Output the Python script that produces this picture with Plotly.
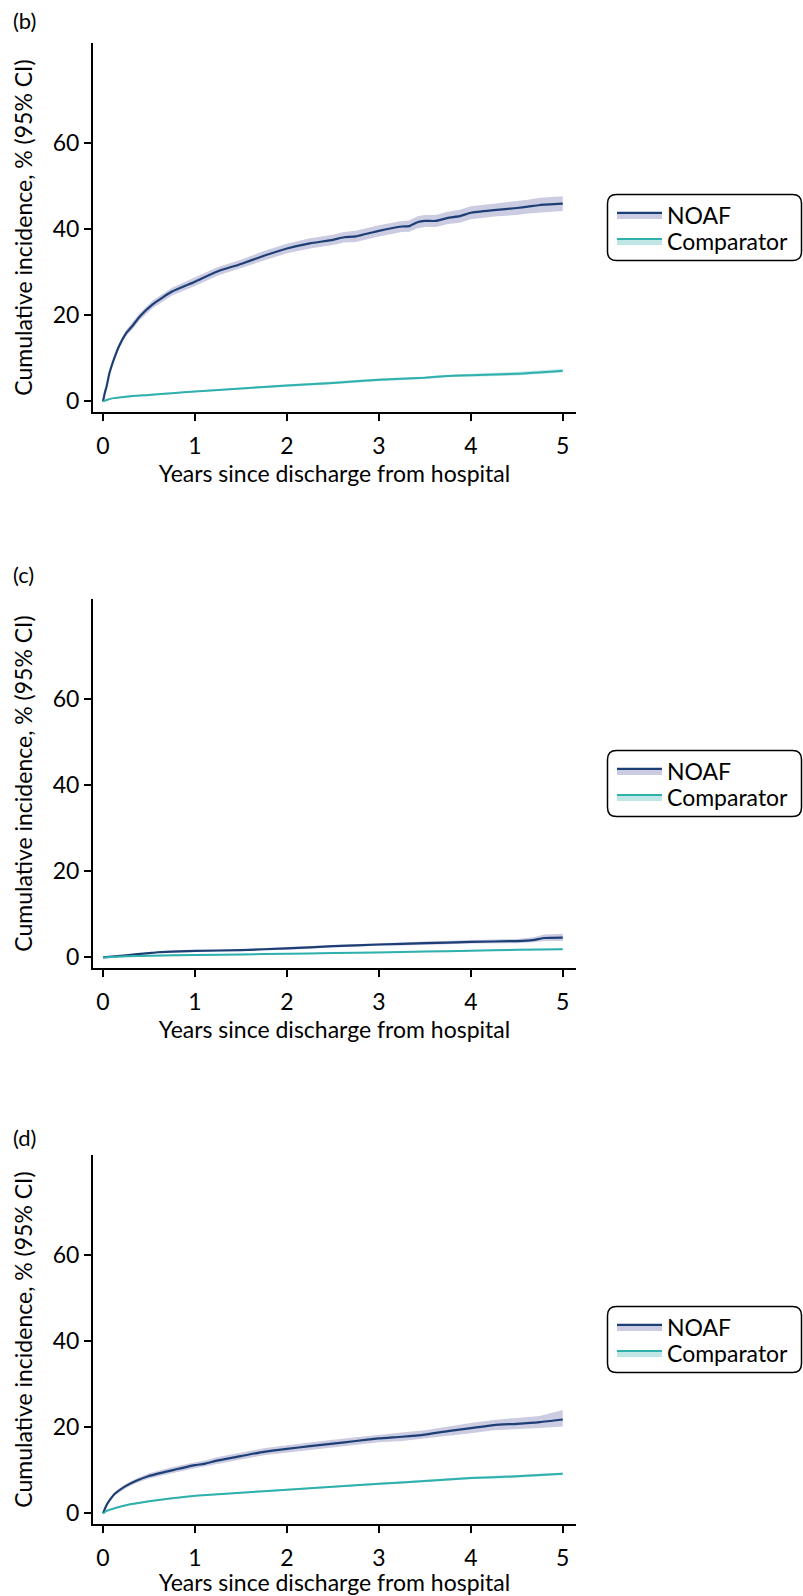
import plotly.graph_objects as go

# ---------------- data ----------------
x_ticks = [0, 1, 2, 3, 4, 5]
y_ticks = [0, 20, 40, 60]
series_names = ["NOAF", "Comparator"]
panel_labels = ["(b)", "(c)", "(d)"]

# Panel (b)
t_noaf_b = [0, 0.02, 0.04, 0.07, 0.11, 0.18, 0.25, 0.33, 0.40, 0.54, 0.75, 1.0, 1.25, 1.5, 1.75, 2.0, 2.25, 2.5, 2.62, 2.75,
            3.0, 3.25, 3.33, 3.42, 3.5, 3.62, 3.75, 3.88, 4.0, 4.25, 4.5, 4.62, 4.75, 5.0]
noaf_b = [0, 2.0, 3.6, 6.6, 9.3, 13.1, 15.8, 17.8, 19.7, 22.5, 25.5, 27.8, 30.2, 31.9, 33.8, 35.5, 36.7, 37.5, 38.1, 38.3,
          39.6, 40.6, 40.7, 41.6, 41.9, 41.9, 42.6, 43.0, 43.8, 44.4, 44.9, 45.2, 45.6, 45.9]
noaf_b_lo = [0, 1.8, 3.3, 6.2, 8.8, 12.5, 15.1, 17.0, 18.9, 21.6, 24.6, 26.8, 29.2, 30.9, 32.7, 34.4, 35.5, 36.3, 36.9, 37.0,
             38.3, 39.3, 39.4, 40.2, 40.5, 40.5, 41.2, 41.5, 42.3, 42.9, 43.3, 43.6, 43.9, 44.2]
noaf_b_hi = [0, 2.2, 3.9, 7.0, 9.8, 13.7, 16.5, 18.6, 20.5, 23.4, 26.4, 28.8, 31.2, 32.9, 34.9, 36.6, 37.9, 38.7, 39.3, 39.6,
             40.9, 41.9, 42.0, 43.0, 43.3, 43.3, 44.0, 44.5, 45.3, 45.9, 46.5, 46.8, 47.3, 47.6]
t_comp_b = [0, 0.05, 0.1, 0.25, 0.5, 0.75, 1.0, 1.5, 2.0, 2.5, 3.0, 3.5, 3.75, 4.0, 4.5, 5.0]
comp_b = [0, 0.4, 0.7, 1.1, 1.5, 1.9, 2.3, 3.0, 3.7, 4.3, 5.0, 5.5, 5.9, 6.1, 6.4, 7.1]
comp_b_lo = [0, 0.3, 0.6, 0.9, 1.3, 1.7, 2.1, 2.8, 3.4, 4.0, 4.7, 5.2, 5.6, 5.8, 6.0, 6.7]
comp_b_hi = [0, 0.5, 0.8, 1.3, 1.7, 2.1, 2.5, 3.2, 4.0, 4.6, 5.3, 5.8, 6.2, 6.4, 6.8, 7.5]

# Panel (c)
t_noaf_c = [0, 0.25, 0.5, 0.6, 0.83, 1.0, 1.5, 2.0, 2.5, 3.0, 3.5, 4.0, 4.5, 4.67, 4.8, 5.0]
noaf_c = [0, 0.5, 1.0, 1.2, 1.4, 1.5, 1.7, 2.1, 2.6, 3.0, 3.3, 3.6, 3.8, 4.0, 4.5, 4.6]
noaf_c_lo = [0, 0.4, 0.8, 1.0, 1.2, 1.3, 1.5, 1.8, 2.3, 2.7, 2.9, 3.2, 3.3, 3.5, 3.8, 3.8]
noaf_c_hi = [0, 0.6, 1.2, 1.4, 1.6, 1.7, 1.9, 2.4, 2.9, 3.3, 3.7, 4.0, 4.3, 4.6, 5.3, 5.5]
t_comp_c = [0, 0.25, 0.5, 1.0, 1.5, 2.0, 2.5, 3.0, 3.5, 4.0, 4.5, 5.0]
comp_c = [0, 0.25, 0.4, 0.55, 0.7, 0.85, 1.0, 1.15, 1.35, 1.55, 1.75, 1.9]
comp_c_lo = [0, 0.2, 0.3, 0.45, 0.6, 0.75, 0.9, 1.05, 1.2, 1.4, 1.6, 1.7]
comp_c_hi = [0, 0.3, 0.5, 0.65, 0.8, 0.95, 1.1, 1.25, 1.5, 1.7, 1.9, 2.1]

# Panel (d)
t_noaf_d = [0, 0.04, 0.08, 0.125, 0.25, 0.375, 0.5, 0.75, 1.0, 1.1, 1.25, 1.5, 1.75, 2.0, 2.25, 2.5, 2.75, 3.0, 3.25,
            3.5, 3.75, 4.0, 4.25, 4.5, 4.75, 5.0]
noaf_d = [0, 2.0, 3.3, 4.5, 6.4, 7.7, 8.7, 10.0, 11.2, 11.5, 12.3, 13.3, 14.3, 15.0, 15.6, 16.2, 16.8, 17.4, 17.8,
          18.3, 19.1, 19.8, 20.5, 20.8, 21.2, 21.8]
noaf_d_lo = [0, 1.8, 3.0, 4.1, 5.9, 7.2, 8.1, 9.3, 10.5, 10.8, 11.5, 12.5, 13.5, 14.2, 14.7, 15.3, 15.9, 16.5, 16.8,
             17.3, 18.0, 18.6, 19.3, 19.5, 19.8, 20.2]
noaf_d_hi = [0, 2.2, 3.6, 4.9, 6.9, 8.2, 9.3, 10.7, 11.9, 12.2, 13.1, 14.1, 15.1, 15.8, 16.5, 17.1, 17.7, 18.3, 18.8,
             19.3, 20.2, 21.0, 21.7, 22.1, 22.6, 24.0]
t_comp_d = [0, 0.04, 0.125, 0.25, 0.5, 0.75, 1.0, 1.5, 2.0, 2.5, 3.0, 3.5, 4.0, 4.5, 5.0]
comp_d = [0, 0.6, 1.2, 1.9, 2.8, 3.5, 4.1, 4.8, 5.5, 6.2, 6.9, 7.5, 8.2, 8.6, 9.2]
comp_d_lo = [0, 0.5, 1.1, 1.7, 2.6, 3.3, 3.9, 4.6, 5.3, 6.0, 6.6, 7.2, 7.9, 8.3, 8.9]
comp_d_hi = [0, 0.7, 1.3, 2.1, 3.0, 3.7, 4.3, 5.0, 5.7, 6.4, 7.2, 7.8, 8.5, 8.9, 9.5]

# ---------------- style ----------------
FONT = "Lato"
FS = 23
NAVY = "#1e3f75"
NAVY_BAND = "rgba(185,186,216,0.75)"
TEAL = "#2fb0ad"
TEAL_BAND = "rgba(150,215,213,0.6)"
X_RANGE = [-0.109, 5.144]
Y_RANGE = [-2.46, 83.2]

W, H = 803, 1596
L, R, T, B = 93, 227, 43, 72
PW, PH = W - L - R, H - T - B

def px_x(px):
    return (px - L) / PW

def px_y(py):
    return (H - B - py) / PH

panels = [
    dict(top=43, bottom=412, label_y=21,
         noaf=(t_noaf_b, noaf_b, noaf_b_lo, noaf_b_hi),
         comp=(t_comp_b, comp_b, comp_b_lo, comp_b_hi)),
    dict(top=599, bottom=968, label_y=574,
         noaf=(t_noaf_c, noaf_c, noaf_c_lo, noaf_c_hi),
         comp=(t_comp_c, comp_c, comp_c_lo, comp_c_hi)),
    dict(top=1155, bottom=1524, label_y=1137,
         noaf=(t_noaf_d, noaf_d, noaf_d_lo, noaf_d_hi),
         comp=(t_comp_d, comp_d, comp_d_lo, comp_d_hi)),
]

fig = go.Figure()
layout = dict(
    width=W, height=H,
    margin=dict(l=L, r=R, t=T, b=B, autoexpand=False),
    paper_bgcolor="white", plot_bgcolor="white",
    font=dict(family=FONT, size=FS, color="black"),
    showlegend=True,
    shapes=[], annotations=[],
)

series_style = [("NOAF", "noaf", NAVY, NAVY_BAND, 2.2, -12.5),
                ("Comparator", "comp", TEAL, TEAL_BAND, 2.0, 13.5)]

legend_count = 0
for i, p in enumerate(panels):
    k = "" if i == 0 else str(i + 1)
    xa, ya = "x" + k, "y" + k
    ctr = (p["top"] + p["bottom"]) / 2
    for name, key, col, band, lw, dy in series_style:
        t, v, lo, hi = p[key]
        fig.add_trace(go.Scatter(x=t + t[::-1], y=hi + lo[::-1], fill="toself", fillcolor=band,
                                 line=dict(width=0), mode="lines", hoverinfo="skip",
                                 showlegend=False, xaxis=xa, yaxis=ya))
    for name, key, col, band, lw, dy in series_style:
        t, v, lo, hi = p[key]
        fig.add_trace(go.Scatter(x=t, y=v, mode="lines",
                                 line=dict(color=col, width=lw, shape="spline", smoothing=0.5),
                                 showlegend=False, xaxis=xa, yaxis=ya, name=name))
        legend_count += 1
        lg = "legend" if legend_count == 1 else "legend" + str(legend_count)
        # legend entry (band + line)
        fig.add_trace(go.Scatter(x=[None], y=[None], mode="lines", fill="toself", fillcolor=band,
                                 line=dict(color=col, width=lw), name=name, legend=lg,
                                 xaxis=xa, yaxis=ya))
        layout[lg] = dict(
            x=px_x(612), xanchor="left", y=px_y(ctr + dy), yanchor="middle",
            bgcolor="rgba(0,0,0,0)", borderwidth=0, itemwidth=45,
            font=dict(family=FONT, size=FS, color="black"),
        )

    d0, d1 = px_y(p["bottom"]), px_y(p["top"])
    # primary x axis: line + ticks only
    layout["xaxis" + k] = dict(
        domain=[0, 1], anchor=ya, range=X_RANGE,
        tickvals=x_ticks, showticklabels=False,
        showline=True, linecolor="black", linewidth=2,
        ticks="outside", ticklen=7, tickwidth=2, tickcolor="black",
        showgrid=False, zeroline=False, automargin=False,
    )
    # overlay x axis: tick labels + title (labels pushed a little further from the line)
    ox = "xaxis" + str(i + 4)
    layout[ox] = dict(
        domain=[0, 1], anchor=ya, overlaying="x" + k, side="bottom", range=X_RANGE,
        tickvals=x_ticks, ticktext=[str(v) for v in x_ticks],
        showline=False, ticks="outside", ticklen=13, tickwidth=1, tickcolor="rgba(0,0,0,0)",
        showgrid=False, zeroline=False, automargin=False,
        tickfont=dict(family=FONT, size=FS, color="black"),
        title=dict(text="Years since discharge from hospital", standoff=6,
                   font=dict(family=FONT, size=FS, color="black")),
    )
    layout["yaxis" + k] = dict(
        domain=[d0, d1], anchor=xa, range=Y_RANGE,
        tickvals=y_ticks, ticktext=[str(v) for v in y_ticks],
        showline=True, linecolor="black", linewidth=2,
        ticks="outside", ticklen=7, tickwidth=2, tickcolor="black",
        showgrid=False, zeroline=False, automargin=False,
        tickfont=dict(family=FONT, size=FS, color="black"),
        title=dict(text="Cumulative incidence, % (95% CI)", standoff=14,
                   font=dict(family=FONT, size=FS, color="black")),
    )
    # invisible trace so the overlay axis is drawn
    fig.add_trace(go.Scatter(x=[None], y=[None], xaxis="x" + str(i + 4), yaxis=ya,
                             showlegend=False, hoverinfo="skip", mode="lines"))
    # rounded legend frame
    x0p, x1p, y0p, y1p, r = 607.5, 801.5, ctr - 33, ctr + 33, 9
    path = (f"M{px_x(x0p + r)},{px_y(y0p)} L{px_x(x1p - r)},{px_y(y0p)} "
            f"Q{px_x(x1p)},{px_y(y0p)} {px_x(x1p)},{px_y(y0p + r)} "
            f"L{px_x(x1p)},{px_y(y1p - r)} Q{px_x(x1p)},{px_y(y1p)} {px_x(x1p - r)},{px_y(y1p)} "
            f"L{px_x(x0p + r)},{px_y(y1p)} Q{px_x(x0p)},{px_y(y1p)} {px_x(x0p)},{px_y(y1p - r)} "
            f"L{px_x(x0p)},{px_y(y0p + r)} Q{px_x(x0p)},{px_y(y0p)} {px_x(x0p + r)},{px_y(y0p)} Z")
    layout["shapes"].append(dict(type="path", path=path, xref="paper", yref="paper",
                                 line=dict(color="black", width=1.5)))
    # panel label
    layout["annotations"].append(dict(
        text=panel_labels[i], xref="paper", yref="paper", x=px_x(11), xanchor="left",
        y=px_y(p["label_y"]), yanchor="middle", showarrow=False,
        font=dict(family=FONT, size=22, color="black")))

fig.update_layout(**layout)
fig.write_html("out.html", config={"displayModeBar": False},
               post_script="document.body.style.margin='0px';document.body.style.overflow='hidden';")
